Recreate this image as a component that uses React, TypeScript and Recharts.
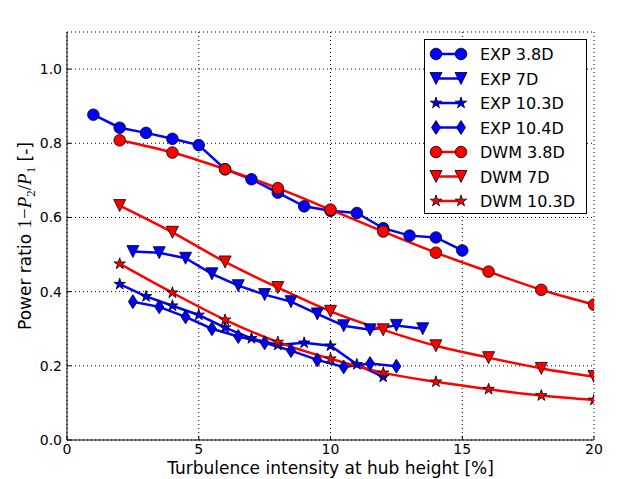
import React from 'react'
import { LineChart, Line, XAxis, YAxis, CartesianGrid } from 'recharts'

const exp38X = [1, 2, 3, 4, 5, 6, 7, 8, 9, 10, 11, 12, 13, 14, 15]
const exp38 = [0.877, 0.842, 0.828, 0.812, 0.795, 0.73, 0.703, 0.667, 0.63, 0.618, 0.612, 0.571, 0.551, 0.546, 0.511]

const exp7X = [2.5, 3.5, 4.5, 5.5, 6.5, 7.5, 8.5, 9.5, 10.5, 11.5, 12.5, 13.5]
const exp7 = [0.508, 0.505, 0.49, 0.448, 0.416, 0.392, 0.373, 0.34, 0.308, 0.297, 0.309, 0.3]

const exp103X = [2, 3, 4, 5, 6, 7, 8, 9, 10, 11, 12]
const exp103 = [0.42, 0.387, 0.362, 0.337, 0.303, 0.274, 0.256, 0.262, 0.254, 0.204, 0.17]

const exp104X = [2.5, 3.5, 4.5, 5.5, 6.5, 7.5, 8.5, 9.5, 10.5, 11.5, 12.5]
const exp104 = [0.373, 0.359, 0.332, 0.3, 0.279, 0.262, 0.241, 0.216, 0.197, 0.206, 0.199]

// DWM model
const dwmX = [2, 4, 6, 8, 10, 12, 14, 16, 18, 20]
const dwm38 = [0.808, 0.775, 0.73, 0.679, 0.621, 0.562, 0.505, 0.454, 0.405, 0.365]
const dwm7 = [0.632, 0.56, 0.48, 0.411, 0.347, 0.297, 0.254, 0.222, 0.193, 0.171]
const dwm103 = [0.475, 0.397, 0.324, 0.264, 0.219, 0.181, 0.157, 0.137, 0.12, 0.108]

const xTicks = [0, 5, 10, 15, 20]
const yTicks = [0, 0.2, 0.4, 0.6, 0.8, 1.0]

const BLUE = '#0000ff'
const RED = '#ff0000'
const FONT = '"DejaVu Sans", sans-serif'
const MATH = '"Liberation Serif", serif'

type Shape = 'circle' | 'triangle' | 'star' | 'diamond'

const toPoints = (xs: number[], ys: number[]) => xs.map((x, i) => ({ x, y: ys[i] }))

const series: { name: string; data: { x: number; y: number }[]; color: string; shape: Shape; smooth: boolean }[] = [
  { name: 'EXP 3.8D', data: toPoints(exp38X, exp38), color: BLUE, shape: 'circle', smooth: false },
  { name: 'EXP 7D', data: toPoints(exp7X, exp7), color: BLUE, shape: 'triangle', smooth: false },
  { name: 'EXP 10.3D', data: toPoints(exp103X, exp103), color: BLUE, shape: 'star', smooth: false },
  { name: 'EXP 10.4D', data: toPoints(exp104X, exp104), color: BLUE, shape: 'diamond', smooth: false },
  { name: 'DWM 3.8D', data: toPoints(dwmX, dwm38), color: RED, shape: 'circle', smooth: true },
  { name: 'DWM 7D', data: toPoints(dwmX, dwm7), color: RED, shape: 'triangle', smooth: true },
  { name: 'DWM 10.3D', data: toPoints(dwmX, dwm103), color: RED, shape: 'star', smooth: true }
]

function starPoints(cx: number, cy: number, R: number) {
  const r = R * 0.381966
  const pts: string[] = []
  for (let i = 0; i < 10; i++) {
    const a = -Math.PI / 2 + (i * Math.PI) / 5
    const rad = i % 2 === 0 ? R : r
    pts.push(`${cx + rad * Math.cos(a)},${cy + rad * Math.sin(a)}`)
  }
  return pts.join(' ')
}

function Marker({ shape, cx, cy, fill }: { shape: Shape; cx: number; cy: number; fill: string }) {
  const common = { fill, stroke: '#000', strokeWidth: 0.8 }
  if (cx == null || cy == null) return null
  if (shape === 'circle') return <circle cx={cx} cy={cy} r={5.8} {...common} />
  if (shape === 'triangle') {
    const h = 6
    return <polygon points={`${cx - h},${cy - h} ${cx + h},${cy - h} ${cx},${cy + h}`} {...common} />
  }
  if (shape === 'diamond') {
    return <polygon points={`${cx},${cy - 7} ${cx + 4.5},${cy} ${cx},${cy + 7} ${cx - 4.5},${cy}`} {...common} />
  }
  return <polygon points={starPoints(cx, cy, 6)} {...common} />
}

function LegendBox() {
  const rowH = 24.5
  return (
    <div style={{ position: 'absolute', left: 424, top: 39 }}>
      <svg width={164} height={176}>
        <rect x={0.5} y={0.5} width={162} height={174} fill="#fff" stroke="#000" strokeWidth={1} />
        {series.map((s, i) => {
          const cy = 15 + i * rowH
          return (
            <g key={s.name}>
              <line x1={12} x2={37} y1={cy} y2={cy} stroke={s.color} strokeWidth={2.5} />
              <Marker shape={s.shape} cx={12} cy={cy} fill={s.color} />
              <Marker shape={s.shape} cx={37} cy={cy} fill={s.color} />
              <text x={56} y={cy + 6} fontFamily={FONT} fontSize={16} fill="#000">{s.name}</text>
            </g>
          )
        })}
      </svg>
    </div>
  )
}

export default function App() {
  return (
    <div style={{ position: 'relative', width: 619, height: 479, background: '#fff' }}>
      <style>{`body { margin: 0; }`}</style>
      <LineChart width={619} height={479} margin={{ top: 32, right: 25, left: 0, bottom: 0 }}>
        <CartesianGrid stroke="#000" strokeDasharray="1 3" strokeWidth={1} />
        <XAxis
          dataKey="x"
          type="number"
          domain={[0, 20]}
          ticks={xTicks}
          allowDataOverflow
          height={39}
          tickSize={-4}
          tickMargin={8}
          axisLine={{ stroke: '#000' }}
          tickLine={{ stroke: '#000' }}
          tick={{ fill: '#000', fontSize: 14, fontFamily: FONT }}
          label={{
            content: () => (
              <text x={330.5} y={474} textAnchor="middle" fontFamily={FONT} fontSize={17} fill="#000">
                Turbulence intensity at hub height [%]
              </text>
            )
          }}
        />
        <XAxis
          xAxisId="top"
          orientation="top"
          dataKey="x"
          type="number"
          domain={[0, 20]}
          ticks={xTicks}
          allowDataOverflow
          height={0}
          tickSize={-4}
          tick={false}
          axisLine={{ stroke: '#000' }}
          tickLine={{ stroke: '#000' }}
          label={{
            content: () => (
              <text x={332} y={31} textAnchor="middle" fontFamily={FONT} fontSize={18} fill="#000">
                Power reduction{' '}
                <tspan fontFamily={MATH} fontSize={20}>6 &lt;</tspan>
                <tspan fontFamily={MATH} fontSize={20} fontStyle="italic">V</tspan>
                <tspan fontFamily={MATH} fontSize={14} fontStyle="italic" dy={4}>hub</tspan>
                <tspan fontFamily={MATH} fontSize={20} dy={-4}>&lt;12</tspan>
                <tspan fontFamily={MATH} fontSize={20} fontStyle="italic">m/s</tspan>
              </text>
            )
          }}
        />
        <YAxis
          type="number"
          domain={[0, 1.1]}
          ticks={yTicks}
          allowDataOverflow
          width={67}
          tickSize={-4}
          tickMargin={9}
          tickFormatter={(v: number) => v.toFixed(1)}
          axisLine={{ stroke: '#000' }}
          tickLine={{ stroke: '#000' }}
          tick={{ fill: '#000', fontSize: 14, fontFamily: FONT }}
          label={{
            content: () => (
              <text transform="translate(31,236) rotate(-90)" textAnchor="middle" fontFamily={FONT} fontSize={17} fill="#000">
                Power ratio{'  '}
                <tspan fontFamily={MATH} fontSize={19}>1−</tspan>
                <tspan fontFamily={MATH} fontSize={19} fontStyle="italic">P</tspan>
                <tspan fontFamily={MATH} fontSize={13} dy={4}>2</tspan>
                <tspan fontFamily={MATH} fontSize={19} dy={-4}>/</tspan>
                <tspan fontFamily={MATH} fontSize={19} fontStyle="italic">P</tspan>
                <tspan fontFamily={MATH} fontSize={13} dy={4}>1</tspan>
                <tspan dy={-4}>{'  '}[-]</tspan>
              </text>
            )
          }}
        />
        <YAxis
          yAxisId="right"
          orientation="right"
          type="number"
          domain={[0, 1.1]}
          ticks={yTicks}
          allowDataOverflow
          width={0}
          tickSize={-4}
          tick={false}
          axisLine={{ stroke: '#000' }}
          tickLine={{ stroke: '#000' }}
        />
        {series.map((s) => (
          <Line
            key={s.name}
            name={s.name}
            data={s.data}
            dataKey="y"
            type={s.smooth ? 'monotone' : 'linear'}
            stroke={s.color}
            strokeWidth={2.5}
            isAnimationActive={false}
            activeDot={false}
            dot={(p: any) => <Marker key={`${s.name}-${p.index}`} shape={s.shape} cx={p.cx} cy={p.cy} fill={s.color} />}
          />
        ))}
      </LineChart>
      <LegendBox />
    </div>
  )
}
